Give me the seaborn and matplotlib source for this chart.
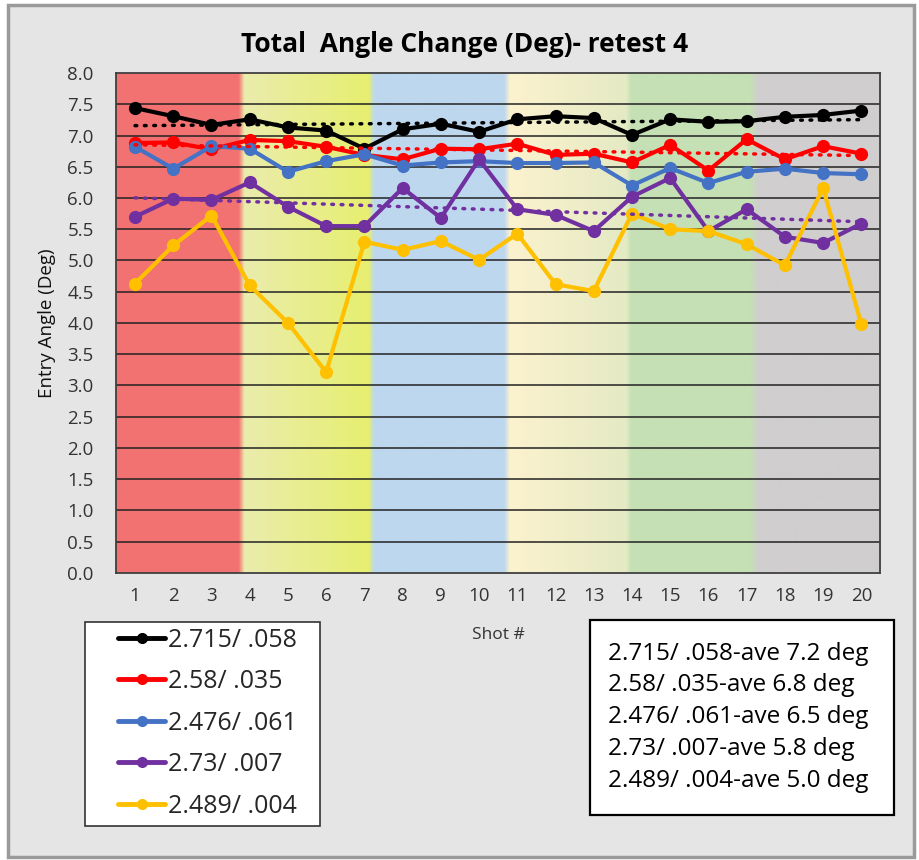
import numpy as np
import pandas as pd
import seaborn as sns
import matplotlib.pyplot as plt
from matplotlib.lines import Line2D
from matplotlib.patches import Rectangle

# data
shots = list(range(1, 21))
series_names = ["2.715/ .058", "2.58/ .035", "2.476/ .061", "2.73/ .007", "2.489/ .004"]
black = [7.44, 7.31, 7.17, 7.26, 7.13, 7.08, 6.79, 7.10, 7.19, 7.06,
         7.26, 7.31, 7.28, 7.01, 7.26, 7.22, 7.23, 7.30, 7.33, 7.40]
red = [6.88, 6.89, 6.78, 6.93, 6.91, 6.82, 6.69, 6.62, 6.79, 6.78,
       6.87, 6.69, 6.71, 6.57, 6.85, 6.44, 6.94, 6.62, 6.83, 6.71]
blue = [6.82, 6.47, 6.83, 6.79, 6.42, 6.59, 6.70, 6.52, 6.57, 6.59,
        6.56, 6.56, 6.57, 6.20, 6.48, 6.24, 6.42, 6.47, 6.40, 6.38]
purple = [5.70, 5.99, 5.97, 6.25, 5.86, 5.55, 5.55, 6.16, 5.68, 6.62,
          5.82, 5.73, 5.47, 6.02, 6.32, 5.47, 5.82, 5.38, 5.28, 5.59]
yellow = [4.63, 5.24, 5.72, 4.60, 4.00, 3.21, 5.30, 5.17, 5.31, 5.01,
          5.43, 4.62, 4.51, 5.75, 5.50, 5.47, 5.26, 4.92, 6.16, 3.98]
averages = ["7.2", "6.8", "6.5", "5.8", "5.0"]
colors = ["#000000", "#FF0000", "#4472C4", "#7030A0", "#FFC000"]
trend_series = [0, 1, 3]

# background colour bands (x position, rgb)
band_x = [0.5, 3.70, 3.85, 7.10, 7.25, 10.65, 10.80, 13.85, 13.97, 17.10, 17.30, 20.5]
band_rgb = [(242, 114, 114), (242, 114, 114), (234, 236, 172), (231, 239, 112),
            (189, 215, 238), (189, 215, 238), (252, 242, 206), (228, 234, 196),
            (197, 224, 180), (197, 224, 180), (208, 206, 206), (208, 206, 206)]

df = pd.DataFrame({
    "shot": shots * 5,
    "angle": black + red + blue + purple + yellow,
    "series": [n for n in series_names for _ in shots],
})

sns.set_style("white")
plt.rcParams["font.family"] = ["Open Sans", "DejaVu Sans"]

fig = plt.figure(figsize=(9.2, 8.6), dpi=100, facecolor="white")
fig.patches.append(Rectangle((0.009, 0.004), 0.985, 0.99, transform=fig.transFigure,
                             facecolor="#E5E5E5", edgecolor="#9A9A9A", lw=2.5, zorder=-1))
ax = fig.add_axes([0.126, 0.334, 0.831, 0.581])

# gradient background image
xs = np.linspace(0.5, 20.5, 800)
arr = np.array(band_rgb) / 255.0
img = np.stack([np.interp(xs, band_x, arr[:, k]) for k in range(3)], axis=-1)[None, :, :]
ax.imshow(img, extent=[0.5, 20.5, 0, 8], aspect="auto", zorder=0, interpolation="bilinear")

for yv in np.arange(0.5, 8.0, 0.5):
    ax.axhline(yv, color="#222222", lw=1.1, zorder=1)

sns.lineplot(data=df, x="shot", y="angle", hue="series", hue_order=series_names,
             palette=colors, marker="o", markersize=9.5, markeredgewidth=0,
             linewidth=3.0, legend=False, ax=ax, zorder=3)

vals = [black, red, blue, purple, yellow]
for i in trend_series:
    sns.regplot(x=np.array(shots), y=np.array(vals[i]), scatter=False, ci=None, ax=ax,
                line_kws=dict(color=colors[i], ls=(0, (0.5, 2.2)), lw=2.5,
                              dash_capstyle="round", zorder=5))

ax.set_xlim(0.5, 20.5)
ax.set_ylim(0, 8)
ax.set_xticks(shots)
ax.set_yticks(np.arange(0, 8.01, 0.5))
ax.set_yticklabels([f"{v:.1f}" for v in np.arange(0, 8.01, 0.5)])
ax.tick_params(length=0, labelsize=13.5, colors="#333333")
ax.tick_params(axis="y", pad=16)
ax.tick_params(axis="x", pad=10)
ax.set_xlabel("Shot #", fontsize=12.5, color="#333333", labelpad=16)
ax.set_ylabel("Entry Angle (Deg)", fontsize=13.5, color="#111111", labelpad=8)
for s in ax.spines.values():
    s.set_color("#404040")
    s.set_linewidth(1.3)
    s.set_zorder(6)

fig.text(0.505, 0.948, "Total  Angle Change (Deg)- retest 4", ha="center", va="center",
         fontsize=19, fontweight="bold", color="black")

# legend box on the left
fig.patches.append(Rectangle((0.092, 0.040), 0.256, 0.237, transform=fig.transFigure,
                             facecolor="white", edgecolor="#333333", lw=1.2))
handles = [Line2D([], [], color=c, lw=3.5, marker="o", markersize=8, markeredgewidth=0)
           for c in colors]
leg = fig.legend(handles, series_names, loc="upper left", bbox_to_anchor=(0.120, 0.279),
                 fontsize=18, frameon=False, handlelength=1.9,
                 handletextpad=0.1, labelspacing=0.66, borderpad=0.3, borderaxespad=0)

# averages box on the right
fig.patches.append(Rectangle((0.641, 0.052), 0.331, 0.227, transform=fig.transFigure,
                             facecolor="white", edgecolor="black", lw=1.6))
avg_lines = [f"{n}-ave {a} deg" for n, a in zip(series_names, averages)]
fig.text(0.661, 0.254, "\n".join(avg_lines), ha="left", va="top", fontsize=17.5,
         linespacing=1.44, color="black")

fig.savefig("out.png", dpi=100, facecolor=fig.get_facecolor())
